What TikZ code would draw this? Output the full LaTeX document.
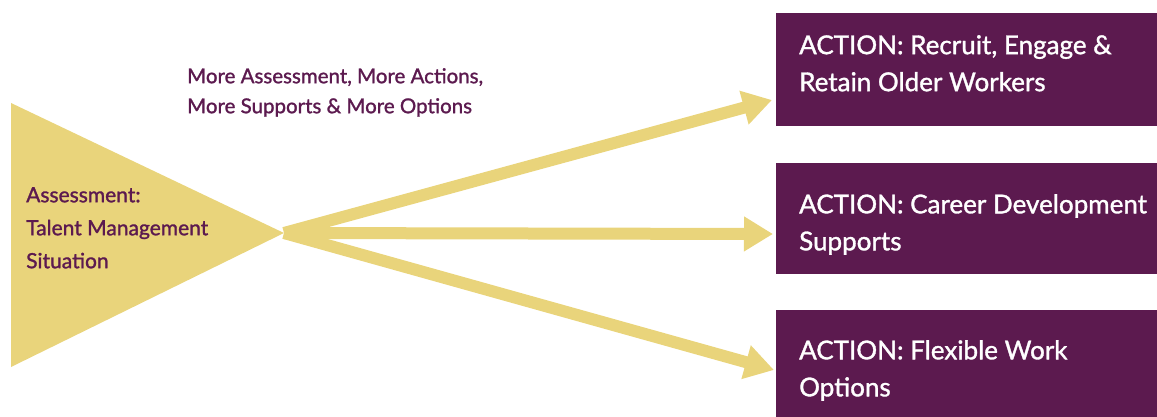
\documentclass[tikz,border=0pt]{standalone}
\usepackage{fontspec}
\setmainfont{Lato}[FakeBold=1.3]
\usepackage{xcolor}
\usepackage{tikz}
\usetikzlibrary{arrows.meta,calc}

\definecolor{plum}{HTML}{5C1A4F}
\definecolor{sand}{HTML}{E9D47B}

\begin{document}
\begin{tikzpicture}[x=1pt, y=-1pt, line join=round,
    actbox/.style={fill=plum, inner sep=0pt, anchor=north west, minimum width=381pt},
    acttext/.style={text=white, inner sep=0pt, anchor=north west, align=left,
      font=\fontsize{26}{37}\selectfont},
    note/.style={text=plum, inner sep=0pt, anchor=north west, align=left},
    fan/.style={draw=sand, line width=12pt,
      -{Triangle[length=29pt, width=33pt]}}]
  \useasboundingbox (0,0) rectangle (1157,417);
  % assessment wedge
  \coordinate (W1) at (11,103);
  \coordinate (W2) at (11,367);
  \coordinate (apex) at (284,233);
  \fill[sand] (W1) -- (apex) -- (W2) -- cycle;
  % action boxes
  \node[actbox, minimum height=113pt] (act1) at (776,13) {};
  \node[actbox, minimum height=111pt] (act2) at (776,163) {};
  \node[actbox, minimum height=111pt] (act3) at (776,310) {};
  % arrow tips
  \coordinate (tip1) at (772,100);
  \coordinate (tip2) at (773,234);
  \coordinate (tip3) at (774,370);
  \draw[fan] (apex) -- (tip1);
  \draw[fan] (apex) -- (tip2);
  \draw[fan] (apex) -- (tip3);
  % texts
  \node[acttext] (lab1) at ([shift={(23,22)}]act1.north west)
    {ACTION: Recruit, Engage \&\\Retain Older Workers};
  \node[acttext] (lab2) at ([shift={(23,31)}]act2.north west)
    {ACTION: Career Development\\Supports};
  \node[acttext] (lab3) at ([shift={(23,30)}]act3.north west)
    {ACTION: Flexible Work\\Options};
  \node[note, font=\fontsize{21}{33}\selectfont] (situ) at (26,187)
    {Assessment:\\Talent Management\\Situation};
  \node[note, font=\fontsize{20.5}{30}\selectfont] (more) at (187,68)
    {More Assessment, More Actions,\\More Supports \& More Options};
\end{tikzpicture}
\end{document}
